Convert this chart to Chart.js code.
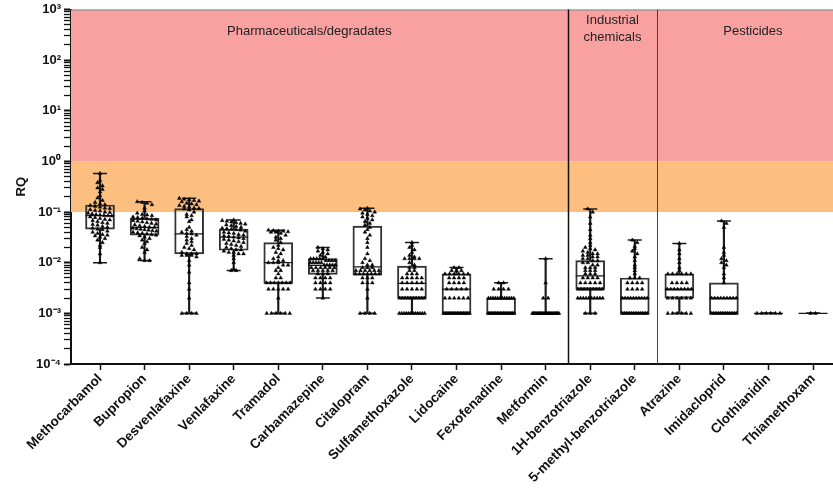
<!DOCTYPE html>
<html lang="en">
<head>
<meta charset="UTF-8">
<title>RQ by compound</title>
<script src="https://cdn.jsdelivr.net/npm/chart.js"></script>
<style>
  html, body { margin: 0; padding: 0; background: #fff; }
  #wrap { width: 833px; height: 495px; }
</style>
</head>
<body>
<div id="wrap"><canvas id="rqChart"></canvas></div>
<script>
const compounds = [
  "Methocarbamol", "Bupropion", "Desvenlafaxine", "Venlafaxine", "Tramadol",
  "Carbamazepine", "Citalopram", "Sulfamethoxazole", "Lidocaine", "Fexofenadine",
  "Metformin", "1H-benzotriazole", "5-methyl-benzotriazole", "Atrazine",
  "Imidacloprid", "Clothianidin", "Thiamethoxam"
];

// box plot summaries (min, quartiles, max)
const rqMin    = [0.01, 0.011, 0.001, 0.007, 0.001, 0.002, 0.001, 0.001, 0.001, 0.001, 0.001, 0.001, 0.001, 0.001, 0.001, 0.001, 0.001];
const rqQ1     = [0.046, 0.035, 0.015, 0.0176, 0.0039, 0.0059, 0.0057, 0.002, 0.001, 0.001, 0.001, 0.003, 0.001, 0.002, 0.001, 0.001, 0.001];
const rqMedian = [0.085, 0.05, 0.037, 0.032, 0.01, 0.0089, 0.0083, 0.0039, 0.003, 0.001, 0.001, 0.0055, 0.002, 0.003, 0.002, 0.001, 0.001];
const rqQ3     = [0.138, 0.075, 0.117, 0.046, 0.025, 0.012, 0.053, 0.0086, 0.006, 0.002, 0.001, 0.011, 0.005, 0.006, 0.004, 0.001, 0.001];
const rqMax    = [0.58, 0.16, 0.187, 0.07, 0.044, 0.02, 0.119, 0.025, 0.008, 0.004, 0.012, 0.115, 0.028, 0.024, 0.067, 0.001, 0.001];

// individual samples
const ptsMethocarbamol = [0.58, 0.42, 0.38, 0.33, 0.3, 0.28, 0.25, 0.21, 0.19, 0.17, 0.155, 0.145, 0.14, 0.135, 0.13, 0.125, 0.12, 0.118, 0.112, 0.108, 0.105, 0.1, 0.098, 0.095, 0.092, 0.09, 0.088, 0.086, 0.085, 0.084, 0.08, 0.078, 0.075, 0.072, 0.07, 0.068, 0.065, 0.062, 0.06, 0.057, 0.055, 0.052, 0.05, 0.048, 0.046, 0.045, 0.042, 0.04, 0.038, 0.036, 0.035, 0.034, 0.032, 0.03, 0.028, 0.025, 0.022, 0.02, 0.015, 0.01];
const ptsBupropion = [0.16, 0.155, 0.15, 0.14, 0.12, 0.105, 0.095, 0.09, 0.088, 0.085, 0.08, 0.078, 0.076, 0.074, 0.072, 0.07, 0.068, 0.066, 0.064, 0.062, 0.06, 0.058, 0.056, 0.054, 0.052, 0.05, 0.05, 0.048, 0.047, 0.046, 0.045, 0.044, 0.043, 0.042, 0.04, 0.039, 0.038, 0.037, 0.036, 0.035, 0.034, 0.032, 0.03, 0.028, 0.026, 0.024, 0.02, 0.018, 0.016, 0.012, 0.011, 0.011];
const ptsDesvenlafaxine = [0.187, 0.18, 0.175, 0.17, 0.165, 0.16, 0.15, 0.145, 0.14, 0.135, 0.13, 0.125, 0.12, 0.118, 0.115, 0.11, 0.1, 0.09, 0.085, 0.08, 0.07, 0.065, 0.05, 0.045, 0.042, 0.04, 0.038, 0.037, 0.035, 0.033, 0.03, 0.028, 0.026, 0.024, 0.022, 0.02, 0.019, 0.018, 0.016, 0.015, 0.015, 0.015, 0.014, 0.014, 0.014, 0.013, 0.011, 0.009, 0.0065, 0.004, 0.003, 0.002, 0.001, 0.001, 0.001, 0.001];
const ptsVenlafaxine = [0.07, 0.068, 0.066, 0.064, 0.062, 0.06, 0.058, 0.056, 0.054, 0.052, 0.05, 0.048, 0.047, 0.046, 0.045, 0.044, 0.042, 0.04, 0.039, 0.038, 0.036, 0.035, 0.034, 0.033, 0.032, 0.031, 0.03, 0.029, 0.028, 0.027, 0.026, 0.025, 0.024, 0.023, 0.022, 0.021, 0.02, 0.019, 0.018, 0.018, 0.017, 0.016, 0.016, 0.015, 0.015, 0.014, 0.012, 0.01, 0.0075, 0.007, 0.007];
const ptsTramadol = [0.044, 0.043, 0.042, 0.042, 0.041, 0.04, 0.04, 0.038, 0.035, 0.032, 0.03, 0.028, 0.025, 0.022, 0.02, 0.019, 0.018, 0.016, 0.015, 0.013, 0.012, 0.011, 0.011, 0.01, 0.01, 0.01, 0.009, 0.009, 0.008, 0.007, 0.007, 0.006, 0.005, 0.005, 0.004, 0.004, 0.004, 0.004, 0.004, 0.004, 0.004, 0.003, 0.003, 0.003, 0.003, 0.003, 0.002, 0.001, 0.001, 0.001, 0.001, 0.001, 0.001];
const ptsCarbamazepine = [0.02, 0.019, 0.018, 0.017, 0.016, 0.015, 0.014, 0.013, 0.012, 0.012, 0.012, 0.012, 0.012, 0.011, 0.011, 0.011, 0.011, 0.01, 0.01, 0.01, 0.01, 0.01, 0.009, 0.009, 0.009, 0.009, 0.009, 0.008, 0.008, 0.008, 0.008, 0.008, 0.008, 0.007, 0.007, 0.007, 0.007, 0.007, 0.006, 0.006, 0.006, 0.005, 0.005, 0.005, 0.005, 0.004, 0.004, 0.004, 0.004, 0.003, 0.003, 0.003, 0.003, 0.002];
const ptsCitalopram = [0.119, 0.115, 0.11, 0.105, 0.1, 0.095, 0.09, 0.085, 0.08, 0.075, 0.07, 0.065, 0.06, 0.055, 0.05, 0.045, 0.04, 0.035, 0.03, 0.025, 0.02, 0.015, 0.012, 0.011, 0.01, 0.009, 0.009, 0.008, 0.008, 0.008, 0.007, 0.007, 0.007, 0.007, 0.007, 0.007, 0.006, 0.006, 0.006, 0.006, 0.006, 0.006, 0.006, 0.005, 0.005, 0.005, 0.004, 0.004, 0.004, 0.003, 0.002, 0.001, 0.001, 0.001, 0.001];
const ptsSulfamethoxazole = [0.025, 0.022, 0.02, 0.018, 0.016, 0.014, 0.013, 0.012, 0.012, 0.012, 0.012, 0.01, 0.009, 0.008, 0.008, 0.007, 0.007, 0.006, 0.006, 0.006, 0.005, 0.005, 0.005, 0.005, 0.005, 0.004, 0.004, 0.004, 0.004, 0.004, 0.003, 0.003, 0.003, 0.003, 0.003, 0.002, 0.002, 0.002, 0.002, 0.002, 0.002, 0.002, 0.002, 0.002, 0.002, 0.001, 0.001, 0.001, 0.001, 0.001, 0.001, 0.001, 0.001, 0.001, 0.001, 0.001, 0.001];
const ptsLidocaine = [0.008, 0.008, 0.007, 0.007, 0.007, 0.006, 0.006, 0.006, 0.006, 0.006, 0.006, 0.005, 0.005, 0.005, 0.005, 0.004, 0.004, 0.004, 0.004, 0.003, 0.003, 0.003, 0.003, 0.003, 0.002, 0.002, 0.002, 0.002, 0.002, 0.002, 0.001, 0.001, 0.001, 0.001, 0.001, 0.001, 0.001, 0.001, 0.001, 0.001, 0.001, 0.001, 0.001, 0.001, 0.001, 0.001, 0.001, 0.001];
const ptsFexofenadine = [0.004, 0.004, 0.003, 0.003, 0.003, 0.003, 0.002, 0.002, 0.002, 0.002, 0.002, 0.002, 0.002, 0.002, 0.002, 0.002, 0.002, 0.002, 0.001, 0.001, 0.001, 0.001, 0.001, 0.001, 0.001, 0.001, 0.001, 0.001, 0.001, 0.001, 0.001, 0.001, 0.001, 0.001, 0.001, 0.001];
const ptsMetformin = [0.012, 0.004, 0.002, 0.002, 0.001, 0.001, 0.001, 0.001, 0.001, 0.001, 0.001, 0.001, 0.001, 0.001, 0.001, 0.001, 0.001, 0.001, 0.001, 0.001, 0.001, 0.001, 0.001, 0.001, 0.001, 0.001, 0.001, 0.001];
const ptsBenzotriazole = [0.115, 0.1, 0.08, 0.06, 0.045, 0.035, 0.03, 0.025, 0.022, 0.02, 0.019, 0.018, 0.017, 0.016, 0.015, 0.015, 0.014, 0.014, 0.013, 0.013, 0.012, 0.012, 0.011, 0.011, 0.01, 0.01, 0.009, 0.009, 0.008, 0.008, 0.008, 0.007, 0.007, 0.007, 0.006, 0.006, 0.006, 0.005, 0.005, 0.005, 0.005, 0.004, 0.004, 0.004, 0.004, 0.004, 0.003, 0.003, 0.003, 0.003, 0.003, 0.003, 0.003, 0.003, 0.003, 0.002, 0.002, 0.002, 0.002, 0.002, 0.002, 0.002, 0.002, 0.002, 0.002, 0.001, 0.001, 0.001];
const ptsMethylBenzotriazole = [0.028, 0.025, 0.021, 0.019, 0.017, 0.015, 0.013, 0.011, 0.009, 0.008, 0.007, 0.006, 0.005, 0.005, 0.005, 0.004, 0.004, 0.004, 0.004, 0.003, 0.003, 0.003, 0.003, 0.002, 0.002, 0.002, 0.002, 0.002, 0.002, 0.002, 0.002, 0.002, 0.002, 0.001, 0.001, 0.001, 0.001, 0.001, 0.001, 0.001, 0.001, 0.001, 0.001, 0.001, 0.001];
const ptsAtrazine = [0.024, 0.018, 0.015, 0.012, 0.01, 0.008, 0.007, 0.006, 0.006, 0.006, 0.006, 0.006, 0.006, 0.004, 0.004, 0.004, 0.004, 0.003, 0.003, 0.003, 0.003, 0.003, 0.003, 0.003, 0.003, 0.002, 0.002, 0.002, 0.002, 0.002, 0.002, 0.001, 0.001, 0.001, 0.001, 0.001, 0.001];
const ptsImidacloprid = [0.067, 0.06, 0.05, 0.02, 0.016, 0.014, 0.012, 0.011, 0.01, 0.009, 0.008, 0.006, 0.005, 0.004, 0.002, 0.002, 0.002, 0.002, 0.002, 0.002, 0.002, 0.002, 0.002, 0.001, 0.001, 0.001, 0.001, 0.001, 0.001, 0.001, 0.001, 0.001, 0.001, 0.001, 0.001];
const ptsClothianidin = [0.001, 0.001, 0.001, 0.001, 0.001, 0.001];
const ptsThiamethoxam = [0.001, 0.001];

const samples = [
  ptsMethocarbamol, ptsBupropion, ptsDesvenlafaxine, ptsVenlafaxine, ptsTramadol,
  ptsCarbamazepine, ptsCitalopram, ptsSulfamethoxazole, ptsLidocaine, ptsFexofenadine,
  ptsMetformin, ptsBenzotriazole, ptsMethylBenzotriazole, ptsAtrazine,
  ptsImidacloprid, ptsClothianidin, ptsThiamethoxam
];

// risk thresholds and compound groups (last index of each group)
const riskLow = 0.1, riskHigh = 1, axisTop = 1000;
const groupNames = [["Pharmaceuticals/degradates"], ["Industrial", "chemicals"], ["Pesticides"]];
const groupEnds = [10, 12, 16];

// spread points of similar value sideways, beeswarm style
function swarm(vals, i) {
  const bins = new Map();
  vals.forEach(v => {
    const k = Math.round(Math.log10(v) / 0.075);
    if (!bins.has(k)) bins.set(k, []);
    bins.get(k).push(v);
  });
  const out = [];
  bins.forEach(list => {
    const n = list.length;
    const step = Math.min(0.11, 0.62 / n);
    list.forEach((v, k) => out.push({ x: i + (k - (n - 1) / 2) * step, y: v }));
  });
  return out;
}

const sup = { '-': '\u207B', '0': '\u2070', '1': '\u00B9', '2': '\u00B2', '3': '\u00B3', '4': '\u2074' };
function powLabel(v) {
  const e = Math.log10(v);
  if (Math.abs(e - Math.round(e)) > 1e-6) return '';
  return '10' + String(Math.round(e)).split('').map(c => sup[c]).join('');
}

const bandsPlugin = {
  id: 'bands',
  beforeDatasetsDraw(chart) {
    const { ctx, chartArea: a, scales: { x, y } } = chart;
    ctx.save();
    ctx.fillStyle = '#F9A0A0';
    ctx.fillRect(a.left, y.getPixelForValue(axisTop), a.right - a.left, y.getPixelForValue(riskHigh) - y.getPixelForValue(axisTop));
    ctx.fillStyle = '#FCBF80';
    ctx.fillRect(a.left, y.getPixelForValue(riskHigh), a.right - a.left, y.getPixelForValue(riskLow) - y.getPixelForValue(riskHigh));
    // top frame line
    ctx.strokeStyle = '#8a8a8a';
    ctx.lineWidth = 1;
    ctx.beginPath();
    ctx.moveTo(a.left, a.top + 0.5);
    ctx.lineTo(a.right, a.top + 0.5);
    ctx.stroke();
    // group separators
    [[groupEnds[0] + 0.5, '#111', 1.5], [groupEnds[1] + 0.5, '#444', 1]].forEach(([v, c, w]) => {
      const px = Math.round(x.getPixelForValue(v)) + 0.5;
      ctx.strokeStyle = c;
      ctx.lineWidth = w;
      ctx.beginPath();
      ctx.moveTo(px, a.top);
      ctx.lineTo(px, a.bottom);
      ctx.stroke();
    });
    // group titles
    ctx.fillStyle = '#222';
    ctx.font = '13px "Liberation Sans", Arial, sans-serif';
    ctx.textAlign = 'center';
    ctx.textBaseline = 'middle';
    const centers = [4.7, 11.5, 14.65];
    groupNames.forEach((lines, g) => {
      const cx = x.getPixelForValue(centers[g]);
      const y0 = lines.length > 1 ? 20 : 31;
      lines.forEach((t, k) => ctx.fillText(t, cx, a.top + y0 - 9 + k * 17));
    });
    ctx.restore();
  }
};

const yTicks = [];
for (let e = -4; e <= 2; e++) {
  for (let m = 1; m <= 9; m++) yTicks.push(m * Math.pow(10, e));
}
yTicks.push(1000);

const ink = '#1a1a1a';
const ctx = document.getElementById('rqChart').getContext('2d');
new Chart(ctx, {
  type: 'bar',
  data: {
    datasets: [
      {
        type: 'scatter',
        label: 'Samples',
        data: samples.flatMap((vals, i) => swarm(vals, i)),
        pointStyle: 'triangle',
        pointRadius: 2.2,
        backgroundColor: '#000',
        borderColor: '#000',
        borderWidth: 0.4,
        order: 0
      },
      {
        type: 'scatter',
        label: 'Median',
        data: rqMedian.map((v, i) => ({ x: i, y: v })),
        pointStyle: 'line',
        pointRadius: 14.5,
        borderColor: ink,
        borderWidth: 1.3,
        order: 1
      },
      {
        type: 'scatter',
        label: 'Caps',
        data: rqMin.map((v, i) => ({ x: i, y: v })).concat(rqMax.map((v, i) => ({ x: i, y: v }))),
        pointStyle: 'line',
        pointRadius: 7,
        borderColor: ink,
        borderWidth: 1.5,
        order: 1
      },
      {
        label: 'Box',
        data: rqQ1.map((v, i) => ({ x: i, y: [v, rqQ3[i]] })),
        backgroundColor: 'rgba(0,0,0,0)',
        borderColor: '#333',
        borderWidth: 1.3,
        borderSkipped: false,
        barThickness: 29,
        grouped: false,
        order: 2
      },
      {
        label: 'Lower whisker',
        data: rqMin.map((v, i) => ({ x: i, y: [v, rqQ1[i]] })),
        backgroundColor: ink,
        borderWidth: 0,
        barThickness: 1.5,
        grouped: false,
        order: 3
      },
      {
        label: 'Upper whisker',
        data: rqQ3.map((v, i) => ({ x: i, y: [v, rqMax[i]] })),
        backgroundColor: ink,
        borderWidth: 0,
        barThickness: 1.5,
        grouped: false,
        order: 3
      }
    ]
  },
  options: {
    responsive: true,
    maintainAspectRatio: false,
    animation: false,
    layout: { autoPadding: false, padding: { top: 9.5, right: 0, left: 0, bottom: 0 } },
    plugins: {
      legend: { display: false },
      tooltip: { enabled: false }
    },
    scales: {
      x: {
        type: 'linear',
        min: -0.651,
        max: 16.448,
        offset: false,
        afterBuildTicks: s => { s.ticks = compounds.map((c, i) => ({ value: i })); },
        afterFit: s => { s.height = 131; s.paddingLeft = 0; s.paddingRight = 0; },
        ticks: {
          autoSkip: false,
          maxRotation: 45,
          minRotation: 45,
          padding: 1,
          color: '#111',
          font: { family: '"Liberation Sans", Arial, sans-serif', size: 13.5, weight: 'bold' },
          callback: v => compounds[v]
        },
        grid: { drawOnChartArea: false, offset: false, tickLength: 6, tickWidth: 1.5, tickColor: '#111' },
        border: { color: '#111', width: 2 }
      },
      y: {
        type: 'logarithmic',
        min: 0.0001,
        max: 1000,
        afterBuildTicks: s => { s.ticks = yTicks.map(v => ({ value: v })); },
        afterFit: s => { s.width = 71; s.paddingTop = 0; s.paddingBottom = 0; },
        ticks: {
          autoSkip: false,
          padding: 3,
          color: '#111',
          font: { family: '"Liberation Sans", Arial, sans-serif', size: 13, weight: 'bold' },
          callback: v => powLabel(v)
        },
        grid: {
          drawOnChartArea: false,
          tickLength: 7,
          tickColor: '#111',
          tickWidth: c => (c.tick && powLabel(c.tick.value) ? 2 : 1.3)
        },
        border: { color: '#111', width: 2 },
        title: {
          display: true,
          text: 'RQ',
          color: '#111',
          padding: { top: 14, bottom: 0 },
          font: { family: '"Liberation Sans", Arial, sans-serif', size: 13, weight: 'bold' }
        }
      }
    }
  },
  plugins: [bandsPlugin]
});
</script>
</body>
</html>
